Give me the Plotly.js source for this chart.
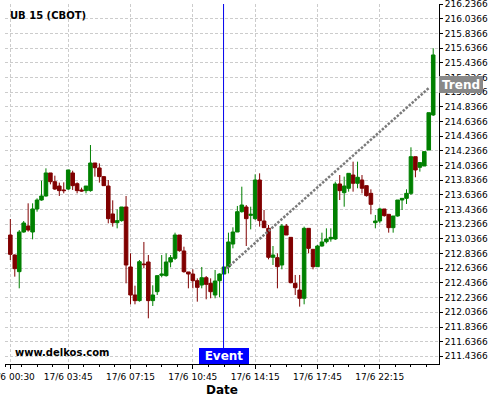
<!DOCTYPE html>
<html>
<head>
<meta charset="utf-8">
<script src="https://cdn.plot.ly/plotly-3.0.1.min.js"></script>
<style>html,body{margin:0;padding:0;background:#fff;}#chart{width:500px;height:400px;}</style>
</head>
<body>
<div id="chart"></div>
<script>
const open = [213.091,212.818,212.591,213.132,213.214,213.132,213.446,213.568,213.623,213.937,
213.818,213.759,213.705,213.718,213.937,213.791,213.705,213.696,213.696,214.073,
214.005,213.887,213.759,213.378,213.259,213.287,213.473,212.655,212.273,212.196,
212.696,212.723,212.196,212.318,212.541,212.537,212.723,212.773,213.091,212.873,
212.587,212.559,212.468,212.409,212.509,212.432,212.273,212.468,212.559,212.655,
212.968,213.132,213.409,213.473,213.359,213.314,213.841,213.282,213.182,212.787,
212.782,212.682,213.214,213.059,212.432,212.341,212.228,213.182,212.896,212.659,
212.941,213.000,213.037,213.037,213.787,213.668,213.728,213.909,213.796,213.841,
213.764,213.659,213.259,213.282,213.446,213.373,213.191,213.350,213.568,213.591,
213.659,214.159,214.014,214.032,214.250,214.728];
const high = [213.309,212.827,213.159,213.282,213.523,213.523,213.591,213.832,214.000,213.937,
213.900,213.805,213.809,213.978,213.968,213.809,213.737,213.759,214.318,214.073,
214.068,213.896,213.841,213.564,213.441,213.473,213.623,212.841,212.400,212.750,
212.996,212.818,212.405,212.537,212.818,212.841,212.818,213.123,213.091,212.932,
212.587,212.623,212.500,212.655,212.532,212.500,212.614,212.568,212.655,213.123,
213.196,213.487,213.750,213.500,213.477,213.918,213.932,213.432,213.228,212.941,
212.841,213.241,213.241,213.059,212.546,212.546,213.205,213.182,212.896,212.955,
213.123,213.182,213.182,213.818,213.909,213.887,213.932,214.091,214.091,213.909,
213.764,213.714,213.364,213.464,213.446,213.373,213.350,213.568,213.591,213.714,
214.287,214.159,214.078,214.228,214.759,215.637];
const low = [212.750,212.523,212.364,213.123,213.137,213.032,213.409,213.559,213.614,213.782,
213.705,213.623,213.659,213.705,213.705,213.659,213.682,213.659,213.682,213.887,
213.805,213.764,213.250,213.205,213.182,213.273,212.432,212.146,212.146,212.182,
212.637,211.955,212.123,212.273,212.514,212.523,212.650,212.750,212.864,212.577,
212.364,212.364,212.182,212.364,212.214,212.228,212.228,212.241,212.559,212.568,
212.909,213.132,213.396,212.941,213.168,213.295,213.205,213.191,212.759,212.682,
212.364,212.623,213.091,212.432,212.273,212.114,212.146,212.841,212.623,212.659,
212.932,212.977,213.000,213.023,213.568,213.477,213.682,213.682,213.728,213.659,
213.614,213.373,213.182,213.250,213.341,213.123,213.123,213.341,213.432,213.514,
213.637,213.878,213.955,214.032,214.250,214.714];
const close = [212.827,212.632,213.132,213.255,213.159,213.446,213.568,213.623,213.937,213.818,
213.718,213.696,213.696,213.978,213.764,213.696,213.691,213.759,214.073,214.009,
213.887,213.764,213.314,213.259,213.287,213.473,212.682,212.273,212.196,212.727,
212.687,212.196,212.273,212.537,212.559,212.723,212.782,213.091,212.877,212.591,
212.559,212.468,212.377,212.509,212.418,212.318,212.464,212.559,212.655,212.996,
213.132,213.409,213.500,213.314,213.373,213.841,213.287,213.191,212.787,212.818,
212.659,213.214,213.091,212.441,212.373,212.228,213.182,212.909,212.659,212.941,
212.996,213.037,213.059,213.787,213.696,213.759,213.932,213.796,213.878,213.728,
213.628,213.509,213.282,213.446,213.355,213.191,213.350,213.568,213.591,213.659,
214.159,213.978,214.078,214.228,214.759,215.546];

const tickIdx = [0, 13, 27, 41, 55, 69, 83];
const tickLabels = ['17/6 00:30','17/6 03:45','17/6 07:15','17/6 10:45','17/6 14:15','17/6 17:45','17/6 22:15'];

const eventX = 47.9;
const trendX = [48.6, 94.2];
const trendY = [212.637, 215.105];

const idx = open.map((_, i) => i);

const candles = {
  type: 'candlestick',
  x: idx, open: open, high: high, low: low, close: close,
  increasing: {line: {color: '#008000', width: 1}, fillcolor: '#008000'},
  decreasing: {line: {color: '#800000', width: 1}, fillcolor: '#800000'},
  whiskerwidth: 0,
  hoverinfo: 'skip',
  showlegend: false
};
const trend = {
  type: 'scatter', mode: 'lines',
  x: trendX, y: trendY,
  line: {color: '#7a7a7a', width: 2.5, dash: '2.5px,1.5px'},
  hoverinfo: 'skip', showlegend: false
};

const grid = '#cccccc';
const layout = {
  width: 500, height: 400,
  margin: {l: 5, r: 61, t: 4, b: 36},
  paper_bgcolor: '#fff', plot_bgcolor: '#fff',
  font: {family: 'DejaVu Sans', size: 9, color: '#000'},
  boxgap: 0.2, boxgroupgap: 0,
  showlegend: false,
  title: {text: 'UB 15 (CBOT)', x: 0.02, xref: 'container', xanchor: 'left',
          y: 0.9625, yref: 'container', yanchor: 'middle',
          font: {family: 'DejaVu Sans', size: 10, weight: 'bold', color: '#000'}},
  xaxis: {
    range: [-1.2, 96.3],
    tickmode: 'array', tickvals: tickIdx, ticktext: tickLabels,
    ticklabeloverflow: 'allow',
    showline: true, linecolor: '#000', linewidth: 1,
    ticks: 'outside', ticklen: 4, tickcolor: '#000',
    showgrid: true, gridcolor: grid, griddash: '3px,2px', gridwidth: 1,
    zeroline: false,
    minor: {tickmode: 'linear', tick0: 13, dtick: 3.5, ticks: 'outside', ticklen: 2, tickcolor: '#000', showgrid: false},
    rangeslider: {visible: false},
    title: {text: 'Date', font: {family: 'DejaVu Sans', size: 12, weight: 'bold', color: '#000'}, standoff: 4}
  },
  yaxis: {
    side: 'right',
    range: [211.332, 216.241],
    tickmode: 'linear', tick0: 211.4366, dtick: 0.2, tickformat: '.4f',
    ticklabeloverflow: 'allow',
    showline: true, linecolor: '#000', linewidth: 1,
    ticks: 'outside', ticklen: 3, tickcolor: '#000',
    showgrid: true, gridcolor: grid, griddash: '3px,2px', gridwidth: 1,
    zeroline: false
  },
  shapes: [
    {type: 'line', xref: 'x', yref: 'paper', x0: eventX, x1: eventX, y0: 0, y1: 1,
     line: {color: '#0000ee', width: 1}, layer: 'above'}
  ],
  annotations: [
    {text: 'www.delkos.com', xref: 'paper', yref: 'paper', x: 0.018, y: 0.0306,
     xanchor: 'left', yanchor: 'middle', showarrow: false,
     font: {family: 'DejaVu Sans', size: 10, weight: 'bold', color: '#000'}},
    {text: 'Event', xref: 'x', yref: 'paper', x: eventX, y: 0.0236,
     xanchor: 'center', yanchor: 'middle', showarrow: false,
     width: 46, height: 12, borderpad: 2, borderwidth: 0, bgcolor: '#0000ff',
     font: {family: 'DejaVu Sans', size: 12, weight: 'bold', color: '#fff'}},
    {text: 'Trend', xref: 'paper', yref: 'paper', x: 1.0507, y: 0.7758,
     xanchor: 'center', yanchor: 'middle', showarrow: false,
     width: 40, height: 13, borderpad: 2, borderwidth: 0, bgcolor: '#888888',
     font: {family: 'DejaVu Sans', size: 12, weight: 'bold', color: '#fff'}}
  ]
};

Plotly.newPlot('chart', [candles, trend], layout, {staticPlot: true, displayModeBar: false});
</script>
</body>
</html>
